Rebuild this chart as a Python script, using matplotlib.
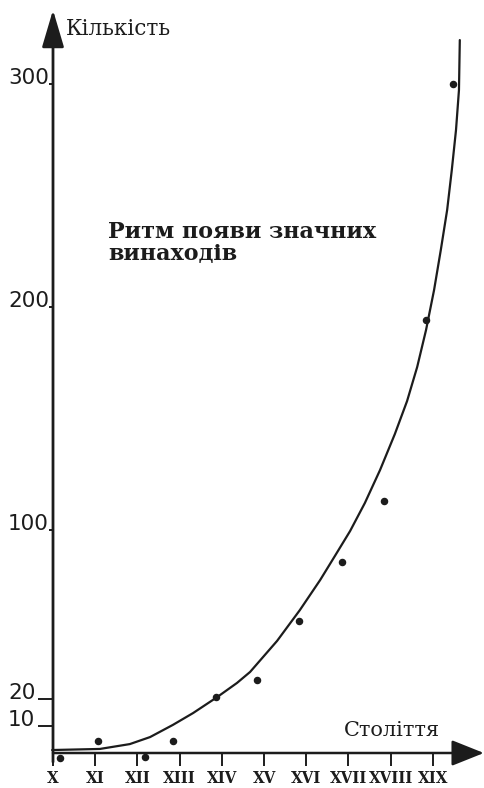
import matplotlib
matplotlib.use("Agg")
import matplotlib.pyplot as plt
import numpy as np

# DATA
centuries = ["X", "XI", "XII", "XIII", "XIV", "XV", "XVI", "XVII", "XVIII", "XIX"]
century_pos = [0, 1, 2, 3, 4, 5, 6, 7, 8, 9]
y_ticks = [10, 20, 100, 200, 300]

# observed counts of inventions (dots)
dot_x = [0.17, 1.07, 2.18, 2.84, 3.86, 4.83, 5.83, 6.85, 7.84, 8.84, 9.48]
dot_y = [-2, 4.4, -1.5, 4.4, 21, 29, 57, 85, 113, 194, 300]

# hand-drawn trend curve
curve_x = [-0.02, 1.11, 1.82, 2.30, 2.84, 3.32, 3.89, 4.36, 4.67, 5.31, 5.85,
           6.33, 6.68, 7.04, 7.39, 7.75, 8.10, 8.39, 8.63, 8.84, 9.03, 9.19,
           9.34, 9.45, 9.55, 9.62, 9.64]
curve_y = [1.1, 1.5, 3.3, 5.9, 10.4, 14.8, 20.9, 27.6, 32.8, 47.5, 62.1,
           76.3, 87.7, 99.5, 112.1, 126.9, 143, 157.8, 173.1, 189.7, 207.6, 225.6,
           243.5, 261.4, 279.4, 297.3, 319.7]

# the value axis of the original drawing is not evenly spaced
scale_vals = [-50, 0, 10, 20, 100, 200, 300, 400]
scale_units = [-135, 0, 27, 54, 223, 446, 669, 892]


def forward(v):
    return np.interp(v, scale_vals, scale_units)


def inverse(u):
    return np.interp(u, scale_units, scale_vals)


ink = "#1c1c1c"

fig = plt.figure(figsize=(4.85, 7.88), dpi=100)
ax = fig.add_axes([0, 0, 1, 1])
ax.set_yscale("function", functions=(forward, inverse))
ax.set_xlim(-1.256, 10.237)
ax.set_ylim(inverse(-35), inverse(753))

for s in ax.spines.values():
    s.set_visible(False)
ax.spines["left"].set_position(("data", 0))
ax.spines["bottom"].set_position(("data", 0))

# axes with arrow heads
ax.annotate("", xy=(10.21, 0), xytext=(0, 0),
            arrowprops=dict(arrowstyle="-|>,head_length=1.0,head_width=0.4",
                            mutation_scale=20, lw=1.8, color=ink,
                            shrinkA=0, shrinkB=0))
ax.annotate("", xy=(0, inverse(743)), xytext=(0, inverse(-9)),
            arrowprops=dict(arrowstyle="-|>,head_length=1.15,head_width=0.34",
                            mutation_scale=20, lw=2.0, color=ink,
                            shrinkA=0, shrinkB=0))

ax.plot(curve_x, curve_y, color=ink, lw=1.6, solid_capstyle="round",
        solid_joinstyle="round")
ax.plot(dot_x, dot_y, "o", color=ink, ms=4.4)

ax.set_xticks(century_pos, centuries)
ax.tick_params(axis="x", direction="out", length=9.4, width=1.4, color=ink,
               pad=3, labelsize=12)
for lab in ax.get_xticklabels():
    lab.set_fontfamily("DejaVu Serif")
    lab.set_fontweight("bold")
    lab.set_fontstretch("condensed")
    lab.set_color(ink)

ax.set_yticks(y_ticks, [str(v) for v in y_ticks])
ax.tick_params(axis="y", direction="out", length=3, width=1.4, color=ink,
               pad=29.4, labelsize=15.5)
for lab in ax.get_yticklabels():
    lab.set_horizontalalignment("left")
    lab.set_verticalalignment("baseline")
    lab.set_color(ink)
# the two lowest marks are drawn as longer strokes
for tk in ax.yaxis.get_major_ticks()[:2]:
    tk.tick1line.set_markersize(11)

ax.text(0.3, inverse(724), "Кількість", family="DejaVu Serif", fontsize=15.5,
        color=ink, va="center", ha="left")
ax.text(9.17, inverse(23), "Століття", family="DejaVu Serif", fontsize=15,
        color=ink, va="center", ha="right")
fig.text(0.223, 1 - 221 / 788, "Ритм появи значних\nвинаходів",
         family="DejaVu Serif", fontweight="bold", fontsize=16, color=ink,
         va="top", ha="left", linespacing=1.0)

fig.savefig("out.png", dpi=100)
